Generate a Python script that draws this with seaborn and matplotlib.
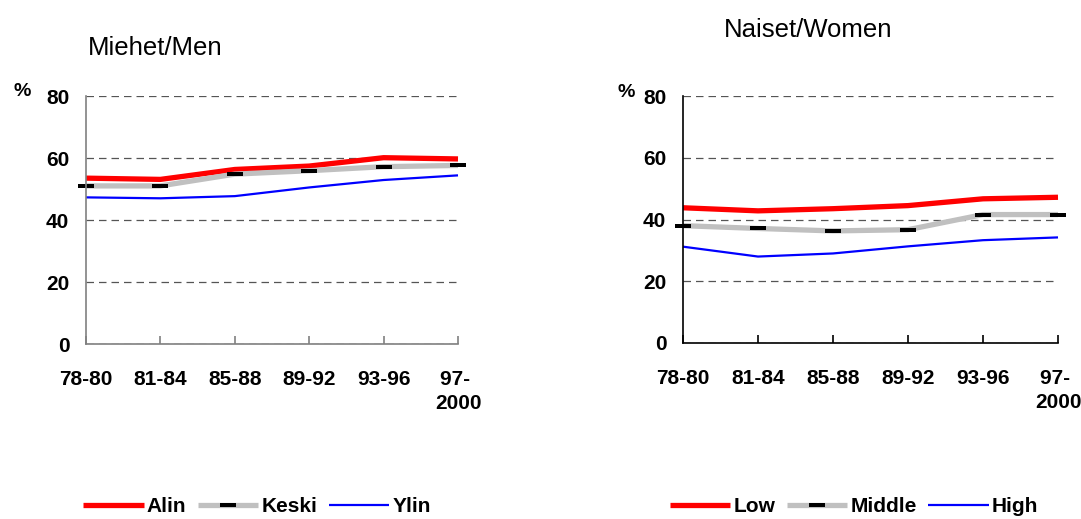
import numpy as np
import pandas as pd
import matplotlib
matplotlib.use('Agg')
import matplotlib.pyplot as plt
import seaborn as sns

# data (% by education level)
periods = ['78-80', '81-84', '85-88', '89-92', '93-96', '97- \n2000']

men_low = [53.5, 53.1, 56.3, 57.4, 60.1, 59.7]
men_mid = [51.0, 51.0, 54.8, 55.9, 57.2, 57.6]
men_high = [47.3, 47.0, 47.7, 50.5, 52.9, 54.4]

women_low = [43.8, 42.8, 43.5, 44.5, 46.7, 47.2]
women_mid = [38.0, 37.1, 36.3, 36.7, 41.6, 41.6]
women_high = [31.2, 28.0, 29.0, 31.3, 33.3, 34.2]

men_labels = ['Alin', 'Keski', 'Ylin']
women_labels = ['Low', 'Middle', 'High']

sns.set_style('white')
plt.rcParams['font.family'] = ['Liberation Sans', 'DejaVu Sans']
plt.rcParams['text.color'] = 'black'
plt.rcParams['xtick.color'] = 'black'
plt.rcParams['ytick.color'] = 'black'

# line styles per level (low, middle, high)
dash_marker = [(-1, -0.3), (1, -0.3), (1, 0.3), (-1, 0.3), (-1, -0.3)]
styles = [
    dict(color='#ff0000', linewidth=3.8),
    dict(color='#c0c0c0', linewidth=3.8, marker=dash_marker, markersize=11.5,
         markerfacecolor='black', markeredgewidth=0),
    dict(color='#0000ff', linewidth=1.6),
]


def make_df(low, mid, high, labels):
    rows = []
    for lab, vals in zip(labels, [low, mid, high]):
        for i, v in enumerate(vals):
            rows.append({'pos': i, 'value': v, 'group': lab})
    return pd.DataFrame(rows)


fig = plt.figure(figsize=(10.81, 5.19), dpi=100)
W, H = 1081, 519

panels = [
    dict(df=make_df(men_low, men_mid, men_high, men_labels), labels=men_labels,
         box=(86, 96, 458, 344), spine='#808080', legend_x=257),
    dict(df=make_df(women_low, women_mid, women_high, women_labels), labels=women_labels,
         box=(683, 96, 1058, 343), spine='black', legend_x=854),
]

for p in panels:
    x0, y0, x1, y1 = p['box']
    ax = fig.add_axes([x0 / W, 1 - y1 / H, (x1 - x0) / W, (y1 - y0) / H])
    df = p['df']
    for lab, st in zip(p['labels'], styles):
        sns.lineplot(data=df[df['group'] == lab], x='pos', y='value', ax=ax,
                     label=lab, clip_on=False, solid_capstyle='butt',
                     solid_joinstyle='round', **st)

    ax.set_xlim(0, len(periods) - 1)
    ax.set_ylim(0, 80)
    ax.set_xticks(np.arange(len(periods)))
    ax.set_xticklabels(periods, fontsize=15, fontweight='bold')
    ax.set_yticks([0, 20, 40, 60, 80])
    ax.set_yticklabels(['0', '20', '40', '60', '80'], fontsize=15, fontweight='bold')
    ax.set_xlabel('')
    ax.set_ylabel('')
    for lbl in ax.get_xticklabels():
        lbl.set_linespacing(1.3)

    ax.yaxis.grid(True, linestyle=(0, (6, 4)), color='#555555', linewidth=0.9)
    ax.set_axisbelow(True)
    for s in ['top', 'right']:
        ax.spines[s].set_visible(False)
    for s in ['left', 'bottom']:
        ax.spines[s].set_color(p['spine'])
        ax.spines[s].set_linewidth(1.2)
    ax.tick_params(axis='x', bottom=True, direction='in', length=6, width=1.2,
                   color=p['spine'], pad=19)
    ax.tick_params(axis='y', length=0, pad=12)

    handles, labels = ax.get_legend_handles_labels()
    ax.legend(handles, labels, loc='center',
              bbox_to_anchor=(p['legend_x'] / W, 1 - 507 / H),
              bbox_transform=fig.transFigure, ncol=3, frameon=False,
              prop={'size': 15, 'weight': 'bold'}, handlelength=2.9,
              handletextpad=0.15, columnspacing=0.55)

fig.text(88 / W, 1 - 55 / H, 'Miehet/Men', fontsize=18.5, ha='left', va='baseline')
fig.text(808 / W, 1 - 37 / H, 'Naiset/Women', fontsize=18.5, ha='center', va='baseline')
fig.text(22 / W, 1 - 91 / H, '%', fontsize=14, fontweight='bold', ha='center', va='center')
fig.text(626 / W, 1 - 92 / H, '%', fontsize=14, fontweight='bold', ha='center', va='center')

fig.savefig('out.png', dpi=100)
